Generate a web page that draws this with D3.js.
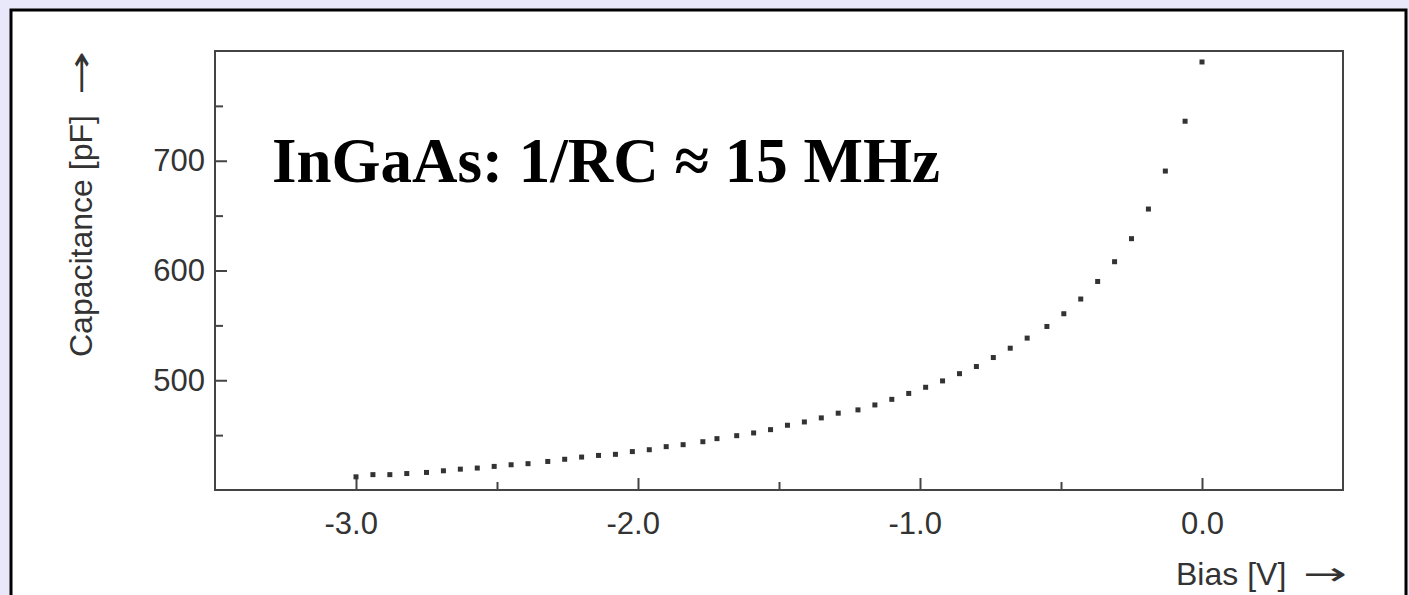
<!DOCTYPE html>
<html>
<head>
<meta charset="utf-8">
<script src="https://cdn.jsdelivr.net/npm/d3@7"></script>
<style>
  body { margin: 0; background: #e8e8fa; }
  svg { display: block; }
  .tick text { font-family: "Liberation Sans", Arial, sans-serif; font-size: 31px; fill: #333; }
  .tick line { stroke: #444; stroke-width: 2; }
  .lbl { font-family: "Liberation Sans", Arial, sans-serif; font-size: 32px; fill: #333; }
</style>
</head>
<body>
<svg id="chart" width="1409" height="595"></svg>
<script>
var bias = [-3.00, -2.94, -2.88, -2.82, -2.75, -2.69, -2.63, -2.57, -2.51, -2.45,
            -2.39, -2.32, -2.26, -2.20, -2.14, -2.08, -2.02, -1.96, -1.90, -1.84,
            -1.77, -1.72, -1.65, -1.59, -1.53, -1.47, -1.41, -1.35, -1.29, -1.22,
            -1.16, -1.10, -1.04, -0.98, -0.92, -0.86, -0.80, -0.74, -0.68, -0.62,
            -0.55, -0.49, -0.43, -0.37, -0.31, -0.25, -0.19, -0.13, -0.06, 0.00];
var capacitance = [412, 414, 414, 415, 416, 417.5, 419, 420, 421.5, 423,
                   424, 426, 428, 430, 431.5, 432.5, 435, 436.7, 439.5, 441.3,
                   444, 446.8, 449.5, 452, 455, 459, 462, 465.7, 470, 473,
                   477.5, 482.6, 488, 493.6, 499.4, 506, 512.5, 520.7, 529.2, 538.4,
                   549, 560.6, 574, 590, 608, 629, 656, 690.6, 736, 790];

var xMajor = [-3, -2, -1, 0];
var xMinor = [-2.5, -1.5, -0.5];
var yMajor = [500, 600, 700];
var yMinor = [450, 550, 650, 750];

var title = "InGaAs: 1/RC \u2248 15 MHz";

var svg = d3.select("#chart");

// white panel with black border
svg.append("rect")
  .attr("x", 11).attr("y", 10)
  .attr("width", 1395).attr("height", 620)
  .attr("fill", "#fff")
  .attr("stroke", "#000")
  .attr("stroke-width", 3);

var plotL = 215, plotR = 1343, plotT = 51, plotB = 490;

var x = d3.scaleLinear().domain([-3.5, 0.5]).range([plotL, plotR]);
var y = d3.scaleLinear().domain([400, 800]).range([plotB, plotT]);

// plain hyphen for negative numbers, like the original
var fmt = function(d) { return d.toFixed(1); };

// axes, ticks pointing inward
var gx = svg.append("g").attr("transform", "translate(0," + plotB + ")");
gx.call(d3.axisBottom(x).tickValues(xMajor).tickSize(-12).tickPadding(22).tickFormat(fmt));
gx.append("g").call(d3.axisBottom(x).tickValues(xMinor).tickSize(-8).tickFormat(""));
gx.selectAll(".tick text").attr("dx", function(d) { return d < 0 ? "-0.17em" : 0; });

var gy = svg.append("g").attr("transform", "translate(" + plotL + ",0)");
gy.call(d3.axisLeft(y).tickValues(yMajor).tickSize(-12).tickPadding(10));
gy.append("g").call(d3.axisLeft(y).tickValues(yMinor).tickSize(-8).tickFormat(""));

svg.selectAll(".domain").remove();

// plot frame
svg.append("rect")
  .attr("x", plotL).attr("y", plotT)
  .attr("width", plotR - plotL).attr("height", plotB - plotT)
  .attr("fill", "none")
  .attr("stroke", "#444")
  .attr("stroke-width", 2);

// data points
svg.append("g")
  .selectAll("rect")
  .data(bias.map(function(b, i) { return [b, capacitance[i]]; }))
  .enter().append("rect")
    .attr("x", function(d) { return x(d[0]) - 2.5; })
    .attr("y", function(d) { return y(d[1]) - 2.5; })
    .attr("width", 5)
    .attr("height", 5)
    .attr("fill", "#333");

// axis labels
svg.append("text").attr("class", "lbl")
  .attr("x", 1176).attr("y", 585)
  .text("Bias [V]");
svg.append("text").attr("class", "lbl")
  .attr("x", 1303).attr("y", 585)
  .attr("textLength", 44).attr("lengthAdjust", "spacingAndGlyphs")
  .style("font-family", "DejaVu Sans")
  .text("\u2192");

var yl = svg.append("g").attr("transform", "translate(92,357) rotate(-90)");
yl.append("text").attr("class", "lbl")
  .attr("x", 0).attr("y", 0)
  .text("Capacitance [pF]");
yl.append("text").attr("class", "lbl")
  .attr("x", 262).attr("y", 0)
  .attr("textLength", 44).attr("lengthAdjust", "spacingAndGlyphs")
  .style("font-family", "DejaVu Sans")
  .text("\u2192");

// title
svg.append("text")
  .attr("x", 272).attr("y", 182)
  .style("font-family", "'Liberation Serif', 'Times New Roman', serif")
  .style("font-weight", "bold")
  .style("font-size", "63px")
  .attr("fill", "#000")
  .text(title);
</script>
</body>
</html>
